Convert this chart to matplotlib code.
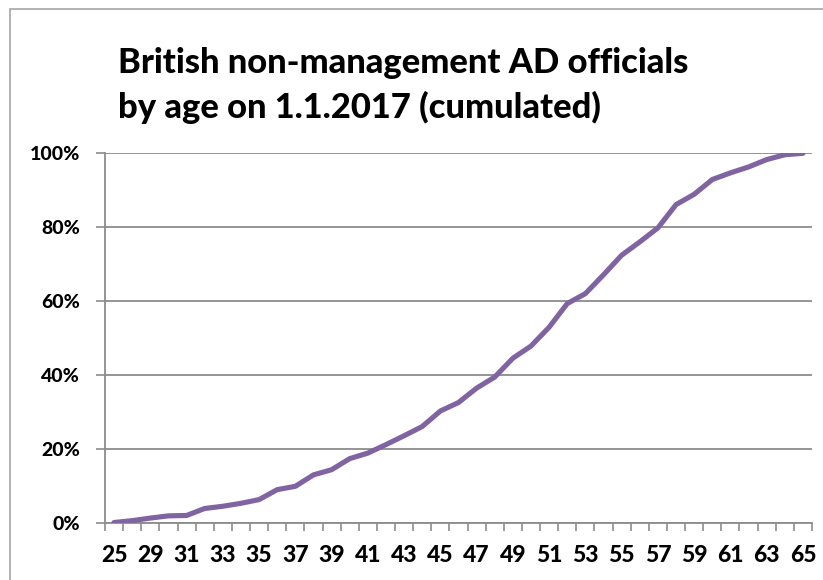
import matplotlib
matplotlib.use("Agg")
import matplotlib.pyplot as plt
from matplotlib.patches import Rectangle
from matplotlib.ticker import FixedLocator, FixedFormatter

plt.rcParams['font.family'] = ['Lato', 'DejaVu Sans']

# ages on the category axis (second category is not labelled in the source)
ages = [25, 27] + list(range(29, 66))
# cumulated share in percent
cum_pct = [0.0, 0.5, 1.2, 1.8, 1.9, 3.8, 4.4, 5.2, 6.2, 8.9,
           9.8, 12.9, 14.3, 17.3, 18.8, 21.1, 23.5, 26.0, 30.2, 32.5,
           36.4, 39.4, 44.5, 47.8, 52.9, 59.3, 62.0, 67.1, 72.4, 76.0,
           79.8, 86.1, 88.9, 92.9, 94.7, 96.3, 98.3, 99.6, 100.0]
y_ticks = [0, 20, 40, 60, 80, 100]
title = "British non-management AD officials\nby age on 1.1.2017 (cumulated)"

W, H = 823, 580
fig = plt.figure(figsize=(W / 100, H / 100), dpi=100)

# chart border (cut off on the right and bottom in the source)
fig.patches.append(Rectangle((10 / W, -0.1), 1.2, 1 - 9 / H + 0.1,
                             transform=fig.transFigure, fill=False,
                             edgecolor="#a6a6a6", linewidth=1.2))

ax = fig.add_axes([105 / W, (H - 522.5) / H, (812 - 105) / W, (522.5 - 153.3) / H])

x = list(range(len(ages)))
ax.plot(x, cum_pct, color="#8064a2", linewidth=3.7, solid_capstyle="round",
        solid_joinstyle="round", zorder=3)

grey = "#8c8c8c"
ax.set_xlim(-0.5, len(ages) - 0.5)
ax.set_ylim(0, 100)
ax.set_yticks(y_ticks)
ax.set_yticklabels([f"{v}%" for v in y_ticks])
ax.grid(axis="y", color=grey, linewidth=1.3)
ax.set_axisbelow(True)

# tick marks between categories, labels on every second category
ax.xaxis.set_major_locator(FixedLocator([i - 0.5 for i in range(len(ages) + 1)]))
ax.xaxis.set_major_formatter(FixedFormatter([""] * (len(ages) + 1)))
lab_idx = [0] + list(range(2, len(ages), 2))
ax.xaxis.set_minor_locator(FixedLocator(lab_idx))
ax.xaxis.set_minor_formatter(FixedFormatter([str(ages[i]) for i in lab_idx]))

ax.tick_params(axis="x", which="major", length=6, width=1.2, color=grey, direction="out")
ax.tick_params(axis="x", which="minor", length=0, pad=16, labelsize=16.5)
ax.tick_params(axis="y", length=6.5, width=1.2, color=grey, pad=11.5, labelsize=14)
for lab in ax.get_xticklabels(minor=True) + ax.get_yticklabels():
    lab.set_fontweight("black")

for side in ("top", "right"):
    ax.spines[side].set_visible(False)
for side in ("left", "bottom"):
    ax.spines[side].set_color(grey)
    ax.spines[side].set_linewidth(1.3)

fig.text(118 / W, (H - 47) / H, title, ha="left", va="top", fontsize=24.8,
         fontweight="black", linespacing=1.44)

fig.savefig("out.png", dpi=100)
